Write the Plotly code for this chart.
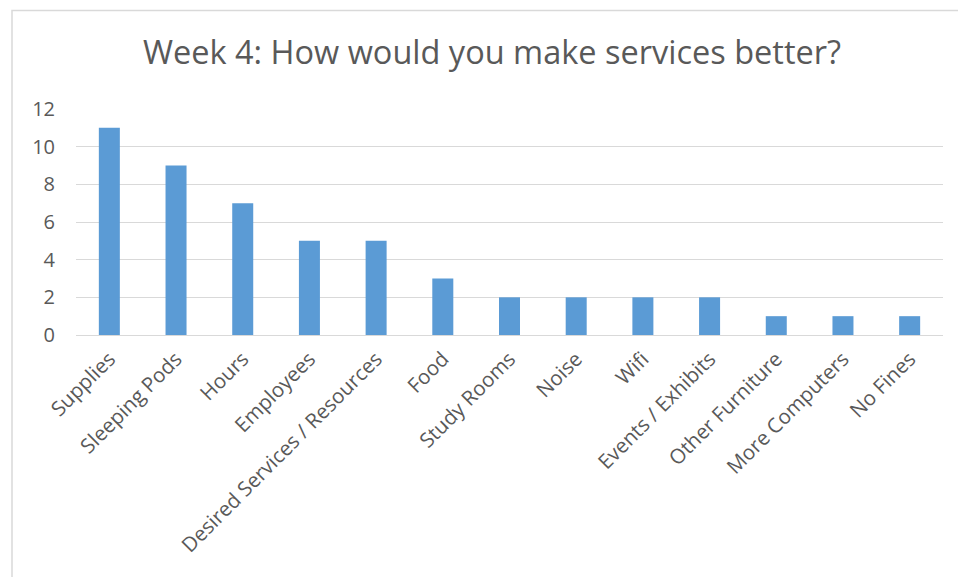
import plotly.graph_objects as go

categories = ["Supplies", "Sleeping Pods", "Hours", "Employees", "Desired Services / Resources",
              "Food", "Study Rooms", "Noise", "Wifi", "Events / Exhibits",
              "Other Furniture", "More Computers", "No Fines"]
values = [11, 9, 7, 5, 5, 3, 2, 2, 2, 2, 1, 1, 1]
y_ticks = [0, 2, 4, 6, 8, 10, 12]

L, R, T, B = 76, 15, 108.7, 242
W, H = 958, 577
pw = W - L - R
ph = H - T - B

fig = go.Figure(go.Bar(x=categories, y=values, marker=dict(color="#5B9BD5", line=dict(width=0))))

font_family = "Open Sans, Noto Sans, sans-serif"
fig.update_layout(
    width=W, height=H,
    margin=dict(l=L, r=R, t=T, b=B, autoexpand=False),
    paper_bgcolor="white", plot_bgcolor="white",
    bargap=0.685,
    showlegend=False,
    title=dict(text="Week 4: How would you make services better?", x=(492) / W, xanchor="center",
               y=1 - 53 / H, yanchor="middle", yref="container",
               font=dict(family=font_family, size=32.5, color="#595959")),
    xaxis=dict(tickangle=-45, tickfont=dict(family=font_family, size=20.5, color="#595959"),
               showgrid=False, showline=False, ticks="", ticklabelstandoff=7),
    yaxis=dict(range=[0, 12], tickvals=y_ticks, showgrid=True, gridcolor="#D9D9D9", gridwidth=1.3,
               zeroline=True, zerolinecolor="#D9D9D9", zerolinewidth=1.3,
               tickfont=dict(family=font_family, size=20, color="#595959"),
               ticks="", ticklabelstandoff=20),
)

fig.add_shape(type="path", xref="paper", yref="paper",
              path=f"M {(12 - L) / pw} {(H - B - 700) / ph} L {(12 - L) / pw} {(H - B - 10) / ph} L {(W + 20 - L) / pw} {(H - B - 10) / ph}",
              line=dict(color="#D9D9D9", width=1.5))

fig.write_html("out.html")
